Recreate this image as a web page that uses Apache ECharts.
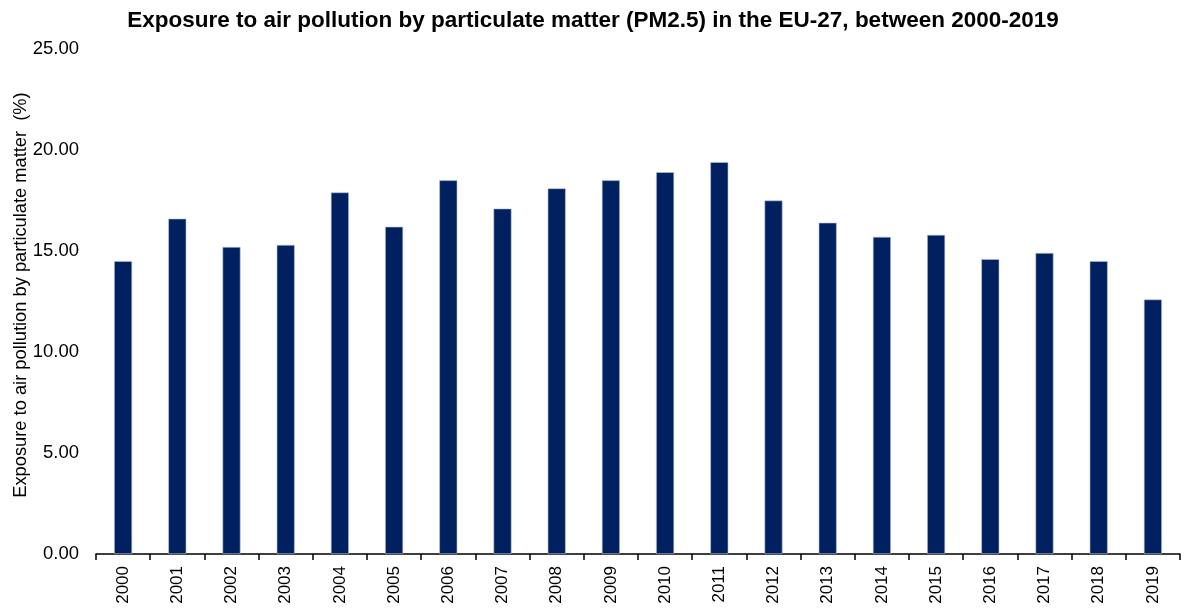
<!DOCTYPE html>
<html><head><meta charset="utf-8">
<script src="https://cdn.jsdelivr.net/npm/echarts@6/dist/echarts.min.js"></script>
<style>html,body{margin:0;padding:0;background:#fff}#c{width:1186px;height:609px}</style>
</head><body><div id="c"></div>
<script>
const years = ['2000','2001','2002','2003','2004','2005','2006','2007','2008','2009','2010','2011','2012','2013','2014','2015','2016','2017','2018','2019'];
const values = [14.5,16.6,15.2,15.3,17.9,16.2,18.5,17.1,18.1,18.5,18.9,19.4,17.5,16.4,15.7,15.8,14.6,14.9,14.5,12.6];
const yTicks = {min:0, max:25, interval:5};
const chart = echarts.init(document.getElementById('c'));
chart.setOption({
  animation:false,
  title:{text:'Exposure to air pollution by particulate matter (PM2.5) in the EU-27, between 2000-2019',left:'center',top:4,
    textStyle:{fontFamily:'Liberation Sans',fontSize:22.5,fontWeight:'bold',color:'#000'}},
  grid:{left:96,right:6,top:49,bottom:55,containLabel:false,outerBoundsMode:'none'},
  xAxis:{type:'category',data:years,boundaryGap:true,
    axisLine:{lineStyle:{color:'#000',width:1.5}},
    axisTick:{show:true,alignWithLabel:false,length:6,lineStyle:{color:'#000',width:1.5}},
    axisLabel:{rotate:90,color:'#000',fontFamily:'Liberation Sans',fontSize:17,margin:12}},
  yAxis:{type:'value',min:yTicks.min,max:yTicks.max,interval:yTicks.interval,
    name:'Exposure to air pollution by particulate matter  (%)',nameLocation:'middle',nameGap:66,
    nameMoveOverlap:false,
    nameTextStyle:{fontFamily:'Liberation Sans',fontSize:18.3,color:'#000',padding:[0,0,0,13]},
    axisLine:{show:false},axisTick:{show:false},splitLine:{show:false},
    axisLabel:{color:'#000',fontFamily:'Liberation Sans',fontSize:18.5,margin:17,formatter:v=>v.toFixed(2)}},
  series:[{type:'bar',data:values,barWidth:18,
    itemStyle:{color:'#002060',borderColor:'#b8c4dc',borderWidth:0.6}}]
});
</script></body></html>
